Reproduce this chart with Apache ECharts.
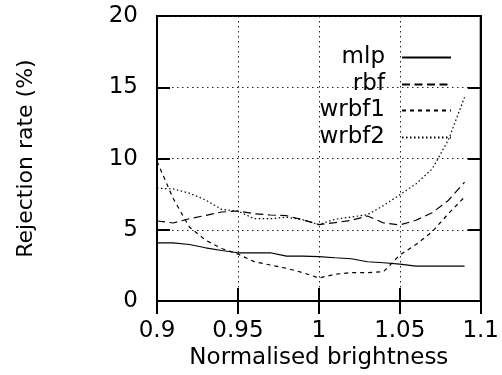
<!DOCTYPE html>
<html>
<head>
<meta charset="utf-8">
<script src="https://cdn.jsdelivr.net/npm/echarts@6/dist/echarts.min.js"></script>
<style>html,body{margin:0;padding:0;background:#fff}#c{width:502px;height:375px}</style>
</head>
<body>
<div id="c"></div>
<script>
var brightness = [0.90,0.91,0.92,0.93,0.94,0.95,0.96,0.97,0.98,0.99,1.00,1.01,1.02,1.03,1.04,1.05,1.06,1.07,1.08,1.09];
var mlp   = [4.09,4.08,3.97,3.74,3.55,3.39,3.39,3.39,3.16,3.16,3.12,3.04,2.97,2.76,2.69,2.60,2.46,2.46,2.46,2.46];
var rbf   = [5.62,5.48,5.78,6.01,6.25,6.32,6.13,6.04,5.99,5.71,5.37,5.50,5.67,5.97,5.48,5.34,5.67,6.20,7.06,8.34];
var wrbf1 = [9.80,7.20,5.20,4.27,3.69,3.30,2.77,2.53,2.30,2.00,1.62,1.88,2.00,2.00,2.07,3.23,3.97,4.86,6.13,7.30];
var wrbf2 = [7.92,7.87,7.57,7.10,6.43,6.32,5.78,5.78,5.88,5.71,5.37,5.74,5.90,6.06,6.71,7.46,8.22,9.27,11.30,14.30];
var xTicks = [0.9, 0.95, 1, 1.05, 1.1];
var yTicks = [0, 5, 10, 15, 20];
var seriesNames = ['mlp','rbf','wrbf1','wrbf2'];

var FONT = 'DejaVu Sans';
var FS = 23;
function pts(v){ return brightness.map(function(x,i){ return [x, v[i]]; }); }
var dashTypes = ['solid', [8,4.5], [4,4], [1.5,2.5]];
var vals = [mlp, rbf, wrbf1, wrbf2];
var legendTops = [41, 68, 94, 121];

var chart = echarts.init(document.getElementById('c'), null, {renderer:'canvas'});
var gridLine = {show:true, lineStyle:{color:'#222', width:1, type:[1.5,3.5]}};
var option = {
  animation:false,
  backgroundColor:'#fff',
  textStyle:{fontFamily:FONT},
  grid:{left:157, right:20, top:16, bottom:72, show:true, borderColor:'#000', borderWidth:2, containLabel:false},
  legend: seriesNames.map(function(n,i){
    return {
      data:[n], right:45, top:legendTops[i], orient:'vertical', align:'right',
      itemWidth:49, itemHeight:14,
      itemStyle:{opacity:0, color:'rgba(0,0,0,0)', borderWidth:0},
      textStyle:{fontFamily:FONT, fontSize:FS, color:'#000', padding:[0,12,0,0]},
      selectedMode:false
    };
  }),
  xAxis:[{
    type:'value', min:xTicks[0], max:xTicks[xTicks.length-1], interval:0.05,
    name:'Normalised brightness', nameLocation:'middle', nameGap:43,
    nameTextStyle:{fontFamily:FONT, fontSize:FS, color:'#000'},
    axisLine:{show:true, lineStyle:{color:'#000', width:2}},
    axisTick:{show:true, inside:true, length:13, lineStyle:{color:'#000', width:2}},
    axisLabel:{fontFamily:FONT, fontSize:FS, color:'#000', margin:18,
      formatter:function(v){ return String(parseFloat(v.toFixed(2))); }},
    splitLine:gridLine
  },{
    type:'value', position:'top', min:xTicks[0], max:xTicks[xTicks.length-1], interval:0.05,
    axisLine:{show:true, lineStyle:{color:'#000', width:2}},
    axisTick:{show:true, inside:true, length:13, lineStyle:{color:'#000', width:2}},
    axisLabel:{show:false}, splitLine:{show:false}
  }],
  yAxis:[{
    type:'value', min:yTicks[0], max:yTicks[yTicks.length-1], interval:5,
    name:'Rejection rate (%)', nameLocation:'middle', nameGap:120, nameRotate:90,
    nameTextStyle:{fontFamily:FONT, fontSize:22, color:'#000'},
    axisLine:{show:true, lineStyle:{color:'#000', width:2}},
    axisTick:{show:true, inside:true, length:13, lineStyle:{color:'#000', width:2}},
    axisLabel:{fontFamily:FONT, fontSize:FS, color:'#000', margin:19},
    splitLine:gridLine
  },{
    type:'value', position:'right', min:yTicks[0], max:yTicks[yTicks.length-1], interval:5,
    axisLine:{show:true, lineStyle:{color:'#000', width:2}},
    axisTick:{show:true, inside:true, length:13, lineStyle:{color:'#000', width:2}},
    axisLabel:{show:false}, splitLine:{show:false}
  }],
  series: seriesNames.map(function(n,i){
    return {
      name:n, type:'line', data:pts(vals[i]), symbol:'none', showSymbol:false,
      lineStyle:{color:'#000', width:1.2, type:dashTypes[i]},
      itemStyle:{color:'#000'}, z:3
    };
  })
};
chart.setOption(option);
</script>
</body>
</html>
